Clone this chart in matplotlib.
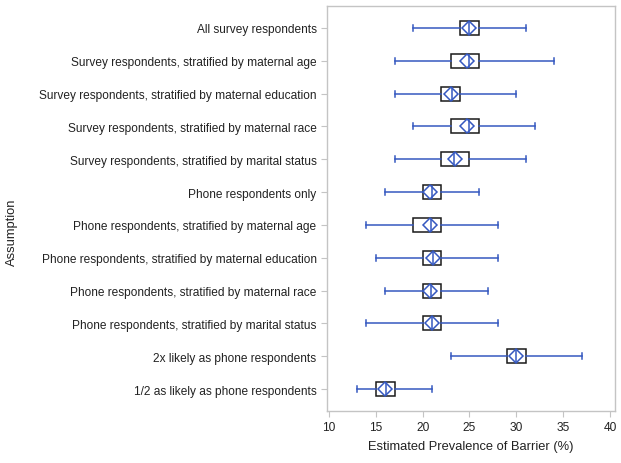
import matplotlib
matplotlib.use("Agg")
import matplotlib.pyplot as plt

plt.rcParams["font.family"] = ["Liberation Sans", "DejaVu Sans"]

# rows from top to bottom
assumptions = [
    "All survey respondents",
    "Survey respondents, stratified by maternal age",
    "Survey respondents, stratified by maternal education",
    "Survey respondents, stratified by maternal race",
    "Survey respondents, stratified by marital status",
    "Phone respondents only",
    "Phone respondents, stratified by maternal age",
    "Phone respondents, stratified by maternal education",
    "Phone respondents, stratified by maternal race",
    "Phone respondents, stratified by marital status",
    "2x likely as phone respondents",
    "1/2 as likely as phone respondents",
]
whisker_low = [19, 17, 17, 19, 17, 16, 14, 15, 16, 14, 23, 13]
q1 = [24, 23, 22, 23, 22, 20, 19, 20, 20, 20, 29, 15]
median = [25.0, 24.9, 23.1, 24.9, 23.3, 21.0, 20.9, 21.1, 20.9, 21.0, 30.0, 16.1]
q3 = [26, 26, 24, 26, 25, 22, 22, 22, 22, 22, 31, 17]
whisker_high = [31, 34, 30, 32, 31, 26, 28, 28, 27, 28, 37, 21]
mean = [25.0, 24.7, 23.0, 24.7, 23.4, 20.8, 20.8, 21.1, 20.8, 21.0, 30.0, 16.0]

BLUE = "#3558c0"
FRAME = "#c4c4c4"

stats = []
for i in range(len(assumptions)):
    stats.append({
        "whislo": whisker_low[i], "q1": q1[i], "med": median[i], "q3": q3[i],
        "whishi": whisker_high[i], "mean": mean[i], "fliers": [],
    })

fig = plt.figure(figsize=(6.21, 4.64), dpi=100)
ax = fig.add_axes([0.5266, 0.112, 0.4637, 0.873])

positions = list(range(1, len(assumptions) + 1))
ax.bxp(
    stats, positions=positions, orientation="horizontal", widths=0.43,
    capwidths=0.18, showmeans=True, showfliers=False, patch_artist=True,
    boxprops=dict(facecolor="white", edgecolor="#1a1a1a", linewidth=1.1),
    whiskerprops=dict(color=BLUE, linewidth=1.1),
    capprops=dict(color=BLUE, linewidth=1.1),
    medianprops=dict(color=BLUE, linewidth=1.1),
    meanprops=dict(marker="D", markersize=7.5, markerfacecolor="none",
                   markeredgecolor=BLUE, markeredgewidth=1.1),
)

ax.set_ylim(len(assumptions) + 0.67, 0.33)
ax.set_xlim(9.79, 40.53)
ax.set_xticks([10, 15, 20, 25, 30, 35, 40])
ax.set_xticklabels(["10", "15", "20", "25", "30", "35", "40"])
ax.set_yticks(positions)
ax.set_yticklabels(assumptions)

for spine in ax.spines.values():
    spine.set_color(FRAME)
    spine.set_linewidth(1.0)
ax.tick_params(axis="both", colors=FRAME, labelcolor="#222222", labelsize=8.6, length=4)

ax.set_xlabel("Estimated Prevalence of Barrier (%)", fontsize=9.3, color="#222222", labelpad=5)
fig.text(0.02, 0.5, "Assumption", rotation=90, va="center", ha="center",
         fontsize=9.3, color="#222222")

fig.savefig("out.png", dpi=100)
